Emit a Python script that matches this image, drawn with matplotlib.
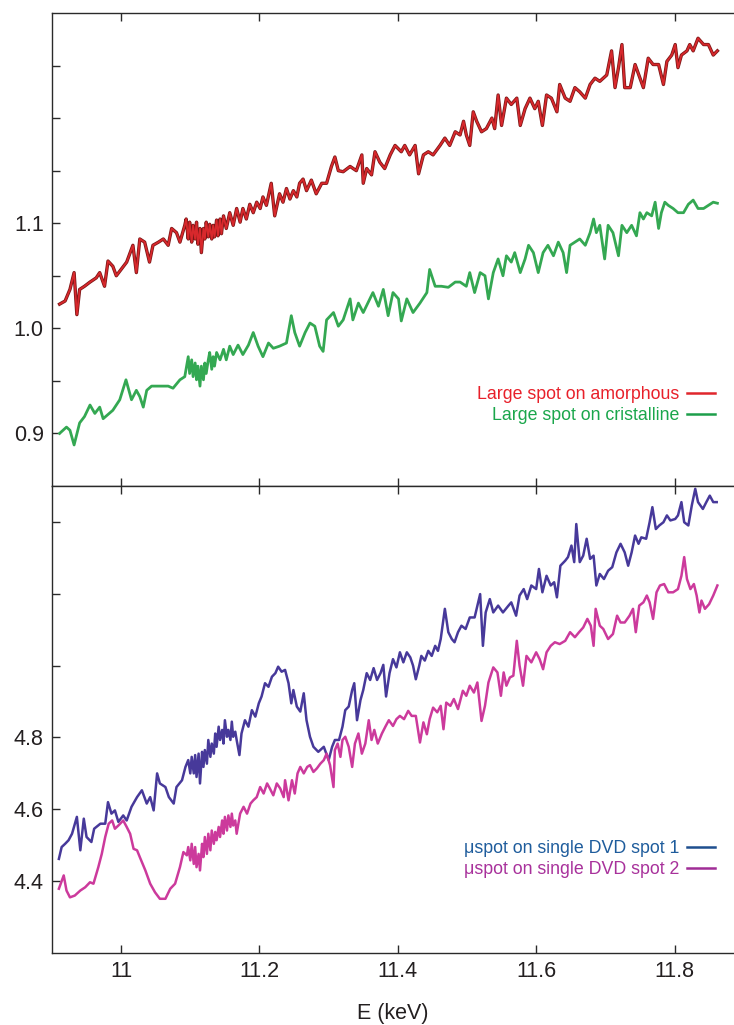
import matplotlib

matplotlib.use("Agg")
import matplotlib.pyplot as plt
from matplotlib.lines import Line2D

plt.rcParams["font.family"] = ["Liberation Sans", "DejaVu Sans"]

# ---- top panel: large spot spectra ----
amorph_x = [10.911, 10.919, 10.926, 10.932, 10.936, 10.940, 10.947, 10.955, 10.964, 10.969, 10.976, 10.981,
            10.988, 10.993, 11.000, 11.008, 11.017, 11.022, 11.027, 11.034, 11.041, 11.046, 11.054, 11.061,
            11.068, 11.073, 11.080, 11.085, 11.092, 11.094, 11.097, 11.099, 11.102, 11.104, 11.107, 11.109,
            11.111, 11.114, 11.116, 11.119, 11.121, 11.123, 11.126, 11.128, 11.131, 11.133, 11.135, 11.138,
            11.140, 11.143, 11.145, 11.148, 11.152, 11.157, 11.162, 11.167, 11.172, 11.176, 11.181, 11.186,
            11.191, 11.196, 11.201, 11.205, 11.210, 11.217, 11.222, 11.229, 11.234, 11.239, 11.244, 11.249,
            11.254, 11.258, 11.263, 11.268, 11.275, 11.282, 11.290, 11.297, 11.304, 11.309, 11.314, 11.321,
            11.331, 11.340, 11.348, 11.350, 11.355, 11.362, 11.367, 11.374, 11.381, 11.389, 11.396, 11.405,
            11.410, 11.417, 11.425, 11.430, 11.437, 11.444, 11.451, 11.461, 11.468, 11.475, 11.483, 11.490,
            11.495, 11.499, 11.504, 11.509, 11.514, 11.521, 11.528, 11.536, 11.540, 11.545, 11.550, 11.557,
            11.564, 11.572, 11.577, 11.584, 11.591, 11.598, 11.603, 11.609, 11.615, 11.622, 11.630, 11.634,
            11.642, 11.649, 11.656, 11.663, 11.671, 11.678, 11.685, 11.692, 11.702, 11.709, 11.714, 11.719,
            11.724, 11.728, 11.736, 11.743, 11.750, 11.755, 11.762, 11.769, 11.777, 11.784, 11.789, 11.796,
            11.801, 11.805, 11.810, 11.818, 11.822, 11.827, 11.834, 11.842, 11.849, 11.856, 11.862]
amorph_y = [1.023, 1.026, 1.037, 1.053, 1.013, 1.037, 1.040, 1.044, 1.048, 1.053, 1.040, 1.064,
            1.059, 1.050, 1.056, 1.063, 1.079, 1.053, 1.085, 1.082, 1.063, 1.079, 1.082, 1.085,
            1.079, 1.095, 1.091, 1.082, 1.098, 1.104, 1.085, 1.101, 1.082, 1.098, 1.085, 1.101,
            1.080, 1.095, 1.072, 1.095, 1.085, 1.101, 1.087, 1.099, 1.085, 1.098, 1.087, 1.103,
            1.088, 1.104, 1.090, 1.107, 1.095, 1.110, 1.098, 1.114, 1.101, 1.114, 1.104, 1.118,
            1.110, 1.120, 1.114, 1.125, 1.117, 1.138, 1.107, 1.128, 1.120, 1.133, 1.123, 1.131,
            1.125, 1.138, 1.142, 1.131, 1.141, 1.128, 1.138, 1.138, 1.154, 1.163, 1.150, 1.149,
            1.154, 1.150, 1.165, 1.138, 1.152, 1.146, 1.168, 1.158, 1.152, 1.165, 1.174, 1.168,
            1.174, 1.165, 1.174, 1.147, 1.165, 1.168, 1.165, 1.174, 1.181, 1.174, 1.187, 1.184,
            1.197, 1.184, 1.174, 1.206, 1.197, 1.187, 1.190, 1.200, 1.190, 1.222, 1.193, 1.219,
            1.213, 1.219, 1.193, 1.209, 1.219, 1.209, 1.216, 1.193, 1.222, 1.219, 1.206, 1.232,
            1.219, 1.216, 1.229, 1.225, 1.219, 1.232, 1.238, 1.235, 1.241, 1.264, 1.229, 1.248,
            1.270, 1.229, 1.229, 1.251, 1.238, 1.229, 1.257, 1.251, 1.251, 1.232, 1.254, 1.260,
            1.270, 1.248, 1.260, 1.264, 1.270, 1.264, 1.276, 1.270, 1.270, 1.260, 1.264]

cryst_x = [10.911, 10.921, 10.926, 10.932, 10.940, 10.947, 10.955, 10.962, 10.969, 10.974, 10.981, 10.988,
           10.998, 11.007, 11.015, 11.022, 11.027, 11.032, 11.037, 11.044, 11.054, 11.061, 11.068, 11.075,
           11.085, 11.092, 11.097, 11.099, 11.102, 11.104, 11.107, 11.109, 11.111, 11.114, 11.116, 11.119,
           11.121, 11.123, 11.126, 11.128, 11.131, 11.133, 11.135, 11.138, 11.143, 11.148, 11.152, 11.157,
           11.162, 11.169, 11.176, 11.184, 11.191, 11.198, 11.205, 11.213, 11.220, 11.229, 11.239, 11.246,
           11.251, 11.258, 11.266, 11.273, 11.280, 11.287, 11.292, 11.297, 11.307, 11.314, 11.321, 11.331,
           11.335, 11.343, 11.350, 11.364, 11.372, 11.379, 11.386, 11.393, 11.401, 11.405, 11.413, 11.422,
           11.432, 11.442, 11.446, 11.454, 11.463, 11.473, 11.483, 11.490, 11.499, 11.504, 11.511, 11.519,
           11.526, 11.531, 11.538, 11.545, 11.552, 11.557, 11.564, 11.569, 11.577, 11.584, 11.589, 11.596,
           11.603, 11.610, 11.617, 11.625, 11.632, 11.639, 11.644, 11.649, 11.656, 11.663, 11.671, 11.678,
           11.683, 11.687, 11.692, 11.699, 11.704, 11.711, 11.719, 11.724, 11.731, 11.738, 11.745, 11.750,
           11.755, 11.760, 11.767, 11.772, 11.777, 11.781, 11.786, 11.791, 11.798, 11.805, 11.813, 11.820,
           11.827, 11.834, 11.842, 11.849, 11.856, 11.862]
cryst_y = [0.900, 0.906, 0.903, 0.889, 0.910, 0.916, 0.927, 0.919, 0.925, 0.914, 0.918, 0.922,
           0.932, 0.951, 0.932, 0.941, 0.935, 0.925, 0.941, 0.945, 0.945, 0.945, 0.945, 0.943,
           0.951, 0.954, 0.973, 0.957, 0.970, 0.954, 0.967, 0.951, 0.964, 0.945, 0.964, 0.951,
           0.967, 0.957, 0.970, 0.977, 0.961, 0.973, 0.964, 0.977, 0.970, 0.980, 0.970, 0.983,
           0.975, 0.984, 0.975, 0.984, 0.996, 0.983, 0.973, 0.986, 0.981, 0.983, 0.986, 1.012,
           0.996, 0.983, 0.996, 1.005, 1.002, 0.983, 0.978, 1.008, 1.015, 1.002, 1.008, 1.028,
           1.008, 1.024, 1.015, 1.034, 1.021, 1.037, 1.012, 1.034, 1.028, 1.007, 1.028, 1.015,
           1.024, 1.034, 1.056, 1.040, 1.040, 1.039, 1.044, 1.044, 1.040, 1.053, 1.034, 1.053,
           1.050, 1.028, 1.053, 1.066, 1.050, 1.069, 1.063, 1.072, 1.053, 1.066, 1.079, 1.072,
           1.053, 1.072, 1.079, 1.069, 1.082, 1.072, 1.053, 1.079, 1.082, 1.085, 1.079, 1.091,
           1.104, 1.091, 1.098, 1.066, 1.098, 1.091, 1.069, 1.098, 1.091, 1.098, 1.088, 1.110,
           1.104, 1.110, 1.107, 1.120, 1.095, 1.110, 1.120, 1.117, 1.114, 1.110, 1.110, 1.118,
           1.122, 1.114, 1.114, 1.117, 1.120, 1.119]

# ---- bottom panel: micro spot spectra ----
spot1_x = [10.910, 10.914, 10.919, 10.924, 10.929, 10.936, 10.941, 10.946, 10.950, 10.957, 10.961, 10.970,
           10.977, 10.981, 10.986, 10.991, 10.996, 11.003, 11.008, 11.015, 11.023, 11.030, 11.037, 11.042,
           11.047, 11.052, 11.056, 11.064, 11.069, 11.076, 11.080, 11.088, 11.093, 11.097, 11.100, 11.102,
           11.105, 11.107, 11.109, 11.112, 11.114, 11.117, 11.119, 11.121, 11.124, 11.126, 11.129, 11.131,
           11.134, 11.136, 11.138, 11.141, 11.143, 11.146, 11.148, 11.150, 11.153, 11.155, 11.158, 11.160,
           11.162, 11.165, 11.167, 11.171, 11.174, 11.179, 11.184, 11.189, 11.194, 11.199, 11.203, 11.208,
           11.213, 11.218, 11.223, 11.227, 11.232, 11.237, 11.242, 11.246, 11.249, 11.254, 11.259, 11.264,
           11.268, 11.273, 11.278, 11.285, 11.293, 11.300, 11.305, 11.309, 11.315, 11.320, 11.324, 11.329,
           11.334, 11.337, 11.341, 11.346, 11.350, 11.355, 11.360, 11.365, 11.370, 11.375, 11.379, 11.383,
           11.388, 11.393, 11.398, 11.403, 11.408, 11.413, 11.418, 11.422, 11.426, 11.431, 11.434, 11.439,
           11.444, 11.449, 11.454, 11.458, 11.462, 11.468, 11.473, 11.478, 11.482, 11.487, 11.492, 11.498,
           11.504, 11.511, 11.519, 11.523, 11.527, 11.533, 11.538, 11.545, 11.552, 11.560, 11.564, 11.571,
           11.576, 11.582, 11.587, 11.593, 11.600, 11.604, 11.609, 11.615, 11.621, 11.626, 11.630, 11.635,
           11.642, 11.646, 11.651, 11.655, 11.658, 11.663, 11.668, 11.673, 11.678, 11.683, 11.687, 11.692,
           11.698, 11.704, 11.710, 11.716, 11.722, 11.728, 11.733, 11.738, 11.743, 11.748, 11.752, 11.759,
           11.764, 11.768, 11.773, 11.778, 11.784, 11.789, 11.794, 11.801, 11.805, 11.810, 11.814, 11.820,
           11.825, 11.830, 11.834, 11.841, 11.846, 11.851, 11.856, 11.861]
spot1_y = [4.462, 4.495, 4.504, 4.514, 4.532, 4.579, 4.486, 4.574, 4.523, 4.509, 4.546, 4.560,
           4.560, 4.620, 4.588, 4.597, 4.565, 4.583, 4.569, 4.607, 4.634, 4.653, 4.616, 4.634,
           4.597, 4.700, 4.672, 4.662, 4.634, 4.616, 4.662, 4.681, 4.718, 4.737, 4.700, 4.746,
           4.700, 4.751, 4.690, 4.755, 4.672, 4.760, 4.718, 4.765, 4.727, 4.793, 4.746, 4.783,
           4.755, 4.811, 4.774, 4.830, 4.793, 4.821, 4.783, 4.848, 4.802, 4.821, 4.793, 4.844,
           4.802, 4.816, 4.793, 4.751, 4.811, 4.848, 4.830, 4.876, 4.858, 4.895, 4.914, 4.951,
           4.941, 4.969, 4.979, 4.997, 4.983, 4.988, 4.951, 4.895, 4.932, 4.886, 4.872, 4.923,
           4.848, 4.802, 4.774, 4.760, 4.774, 4.737, 4.774, 4.793, 4.793, 4.830, 4.876, 4.886,
           4.932, 4.951, 4.848, 4.904, 4.932, 4.979, 4.960, 4.993, 4.960, 4.979, 5.002, 4.914,
           4.979, 5.018, 4.995, 5.037, 5.009, 5.037, 5.023, 5.000, 4.962, 5.000, 5.027, 5.014,
           5.041, 5.027, 5.055, 5.041, 5.074, 5.158, 5.093, 5.074, 5.065, 5.093, 5.111, 5.102,
           5.134, 5.134, 5.199, 5.055, 5.148, 5.185, 5.148, 5.167, 5.148, 5.167, 5.176, 5.139,
           5.195, 5.213, 5.185, 5.223, 5.213, 5.269, 5.204, 5.250, 5.223, 5.232, 5.190, 5.278,
           5.292, 5.302, 5.334, 5.288, 5.394, 5.288, 5.306, 5.353, 5.297, 5.306, 5.223, 5.255,
           5.241, 5.264, 5.274, 5.315, 5.339, 5.315, 5.278, 5.315, 5.362, 5.339, 5.357, 5.353,
           5.399, 5.441, 5.380, 5.390, 5.399, 5.418, 5.404, 5.408, 5.418, 5.455, 5.399, 5.390,
           5.446, 5.492, 5.455, 5.436, 5.455, 5.473, 5.455, 5.455]

spot2_x = [10.910, 10.917, 10.921, 10.926, 10.933, 10.941, 10.948, 10.955, 10.960, 10.967, 10.972, 10.977,
           10.982, 10.987, 10.991, 10.996, 11.003, 11.008, 11.013, 11.018, 11.023, 11.027, 11.035, 11.042,
           11.049, 11.056, 11.064, 11.071, 11.078, 11.085, 11.090, 11.095, 11.097, 11.100, 11.102, 11.105,
           11.107, 11.109, 11.112, 11.114, 11.117, 11.119, 11.121, 11.124, 11.126, 11.129, 11.131, 11.134,
           11.136, 11.138, 11.141, 11.143, 11.146, 11.148, 11.150, 11.153, 11.155, 11.158, 11.160, 11.162,
           11.165, 11.167, 11.172, 11.177, 11.182, 11.187, 11.191, 11.196, 11.201, 11.206, 11.211, 11.215,
           11.220, 11.225, 11.230, 11.235, 11.237, 11.242, 11.247, 11.251, 11.255, 11.259, 11.264, 11.269,
           11.273, 11.278, 11.283, 11.288, 11.293, 11.297, 11.302, 11.307, 11.309, 11.313, 11.317, 11.320,
           11.324, 11.329, 11.334, 11.338, 11.343, 11.348, 11.353, 11.358, 11.362, 11.366, 11.371, 11.377,
           11.382, 11.387, 11.393, 11.398, 11.403, 11.409, 11.415, 11.420, 11.426, 11.432, 11.437, 11.442,
           11.446, 11.451, 11.457, 11.462, 11.466, 11.470, 11.476, 11.481, 11.487, 11.494, 11.499, 11.504,
           11.510, 11.515, 11.521, 11.526, 11.531, 11.538, 11.544, 11.549, 11.553, 11.557, 11.562, 11.567,
           11.572, 11.576, 11.581, 11.586, 11.593, 11.600, 11.605, 11.610, 11.615, 11.621, 11.627, 11.634,
           11.642, 11.649, 11.656, 11.662, 11.668, 11.674, 11.679, 11.683, 11.686, 11.692, 11.697, 11.704,
           11.711, 11.717, 11.722, 11.728, 11.735, 11.740, 11.744, 11.749, 11.755, 11.760, 11.764, 11.769,
           11.774, 11.779, 11.785, 11.791, 11.798, 11.805, 11.810, 11.814, 11.818, 11.823, 11.828, 11.832,
           11.836, 11.839, 11.844, 11.850, 11.856, 11.862]
spot2_y = [4.379, 4.416, 4.374, 4.355, 4.360, 4.374, 4.383, 4.397, 4.393, 4.439, 4.476, 4.523,
           4.560, 4.569, 4.546, 4.555, 4.569, 4.551, 4.532, 4.490, 4.486, 4.467, 4.430, 4.393,
           4.369, 4.351, 4.351, 4.379, 4.393, 4.439, 4.481, 4.472, 4.495, 4.458, 4.504, 4.448,
           4.495, 4.439, 4.476, 4.430, 4.504, 4.467, 4.523, 4.476, 4.532, 4.486, 4.541, 4.504,
           4.537, 4.514, 4.551, 4.523, 4.569, 4.532, 4.579, 4.541, 4.583, 4.551, 4.588, 4.555,
           4.569, 4.532, 4.588, 4.607, 4.588, 4.616, 4.625, 4.634, 4.662, 4.644, 4.672, 4.658,
           4.639, 4.672, 4.658, 4.634, 4.681, 4.625, 4.681, 4.644, 4.700, 4.718, 4.700, 4.718,
           4.723, 4.704, 4.714, 4.727, 4.737, 4.755, 4.723, 4.662, 4.765, 4.783, 4.746, 4.793,
           4.802, 4.774, 4.718, 4.783, 4.811, 4.755, 4.783, 4.848, 4.793, 4.821, 4.783, 4.811,
           4.830, 4.848, 4.832, 4.851, 4.860, 4.851, 4.874, 4.860, 4.860, 4.786, 4.842, 4.809,
           4.851, 4.883, 4.870, 4.888, 4.823, 4.897, 4.888, 4.907, 4.879, 4.930, 4.916, 4.944,
           4.925, 4.953, 4.846, 4.888, 4.953, 4.995, 4.981, 4.916, 4.981, 4.944, 4.967, 4.972,
           5.069, 5.000, 4.944, 5.027, 5.009, 5.037, 5.018, 4.990, 5.037, 5.055, 5.065, 5.060,
           5.069, 5.093, 5.079, 5.093, 5.106, 5.130, 5.111, 5.055, 5.158, 5.111, 5.102, 5.074,
           5.088, 5.139, 5.120, 5.120, 5.139, 5.158, 5.093, 5.167, 5.176, 5.195, 5.176, 5.130,
           5.204, 5.223, 5.227, 5.204, 5.204, 5.213, 5.250, 5.302, 5.241, 5.213, 5.227, 5.195,
           5.148, 5.181, 5.158, 5.171, 5.195, 5.223]

x_ticks = [11.0, 11.2, 11.4, 11.6, 11.8]
x_tick_labels = ["11", "11.2", "11.4", "11.6", "11.8"]
top_y_ticks = [0.9, 0.95, 1.0, 1.05, 1.1, 1.15, 1.2, 1.25]
top_y_labels = ["0.9", "", "1.0", "", "1.1", "", "", ""]
bot_y_ticks = [4.4, 4.6, 4.8, 5.0, 5.2, 5.4]
bot_y_labels = ["4.4", "4.6", "4.8", "", "", ""]

top_labels = ["Large spot on amorphous", "Large spot on cristalline"]
bot_labels = ["\u03bcspot on single DVD spot 1", "\u03bcspot on single DVD spot 2"]

AXIS_COLOR = "#2a2a2a"
TEXT_COLOR = "#231f20"

fig = plt.figure(figsize=(7.34, 10.25), dpi=100)
ax_top = fig.add_axes([0.0708, 0.5259, 0.9292, 0.4614])
ax_bot = fig.add_axes([0.0708, 0.0702, 0.9292, 0.4557])

for ax in (ax_top, ax_bot):
    for side in ("left", "top", "bottom"):
        ax.spines[side].set_color(AXIS_COLOR)
        ax.spines[side].set_linewidth(1.0)
    ax.spines["right"].set_visible(False)
    ax.tick_params(direction="in", length=6, width=1.0, color=AXIS_COLOR,
                   top=True, right=False, labelsize=15.5, pad=6, labelcolor=TEXT_COLOR)
    ax.set_xlim(10.9, 11.886)
    ax.set_xticks(x_ticks)
    ax.set_xticklabels(x_tick_labels)

ax_top.tick_params(labelbottom=False)

# top panel curves
ax_top.plot(amorph_x, amorph_y, color="#7a1616", linewidth=2.4, solid_joinstyle="round")
ax_top.plot(amorph_x, amorph_y, color="#d8282c", linewidth=1.3, solid_joinstyle="round")
ax_top.plot(cryst_x, cryst_y, color="#34a852", linewidth=2.0, solid_joinstyle="round")
ax_top.set_ylim(0.85, 1.30)
ax_top.set_yticks(top_y_ticks)
ax_top.set_yticklabels(top_y_labels)

top_handles = [Line2D([], [], color="#e0262c", linewidth=1.8),
               Line2D([], [], color="#1d9e4a", linewidth=1.8)]
ax_top.legend(top_handles, top_labels, loc="center right", bbox_to_anchor=(0.972, 0.171),
              frameon=False, markerfirst=False, handlelength=1.57, handletextpad=0.45,
              labelspacing=0.2, borderpad=0, borderaxespad=0, fontsize=12.8,
              labelcolor=["#e8202a", "#1aa64b"])

# bottom panel curves
ax_bot.plot(spot1_x, spot1_y, color="#47399a", linewidth=1.8, solid_joinstyle="round")
ax_bot.plot(spot2_x, spot2_y, color="#cc3a9c", linewidth=1.8, solid_joinstyle="round")
ax_bot.set_ylim(4.2, 5.5)
ax_bot.set_yticks(bot_y_ticks)
ax_bot.set_yticklabels(bot_y_labels)
ax_bot.set_xlabel("E (keV)", fontsize=15.5, labelpad=15, color=TEXT_COLOR)

bot_handles = [Line2D([], [], color="#1e4f8f", linewidth=1.8),
               Line2D([], [], color="#a02d96", linewidth=1.8)]
ax_bot.legend(bot_handles, bot_labels, loc="center right", bbox_to_anchor=(0.972, 0.201),
              frameon=False, markerfirst=False, handlelength=1.57, handletextpad=0.45,
              labelspacing=0.2, borderpad=0, borderaxespad=0, fontsize=12.8,
              labelcolor=["#1e5c9c", "#a8319b"])

fig.savefig("out.png", dpi=100)
plt.close(fig)
